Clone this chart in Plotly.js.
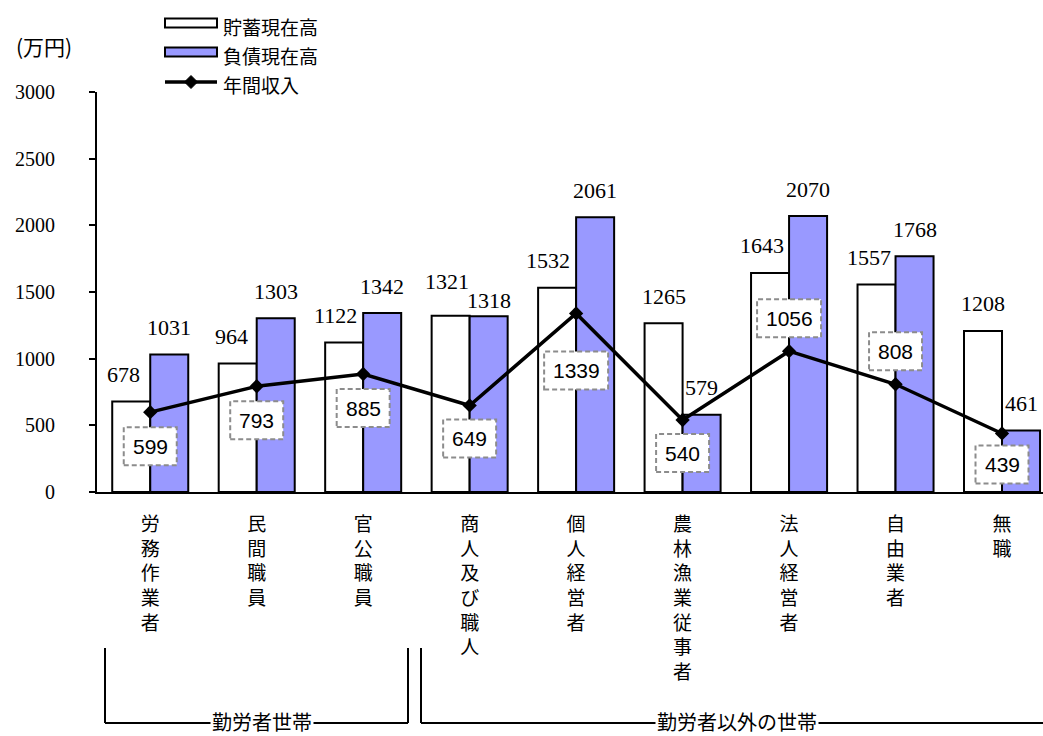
<!DOCTYPE html>
<html><head><meta charset="utf-8">
<script src="https://cdn.plot.ly/plotly-3.0.1.min.js"></script>
<style>html,body{margin:0;padding:0;background:#fff}#chart{width:1043px;height:736px}</style>
</head><body><div id="chart"></div>
<script>
// ---- data ----
const categories = ['労務作業者','民間職員','官公職員','商人及び職人','個人経営者','農林漁業従事者','法人経営者','自由業者','無職'];
const savings = [678, 964, 1122, 1321, 1532, 1265, 1643, 1557, 1208];
const debt    = [1031, 1303, 1342, 1318, 2061, 579, 2070, 1768, 461];
const income  = [599, 793, 885, 649, 1339, 540, 1056, 808, 439];
const seriesNames = ['貯蓄現在高', '負債現在高', '年間収入'];
const yTicks = [0, 500, 1000, 1500, 2000, 2500, 3000];
const yUnit = '(万円)';
const groupLabels = ['勤労者世帯', '勤労者以外の世帯'];

// ---- style / layout helpers ----
const L = 97, T = 92, W = 946, H = 400;
const px2x = p => (p - L) / W;
const py2y = p => (T + H - p) / H;
const serif = 'Liberation Serif, serif';
const jp = 'Noto Sans CJK JP, sans-serif';
const gothicNum = 'Liberation Sans, Arial, sans-serif';
const blue = '#9999FF';
const idx = categories.map((_, i) => i);

// label placement styles (pixels)
const incomeLabelDy = [34, 34, 34, 33, 57, 33, -33, -33, 31]; // + = below point
const whiteLabelDx = [-8, -6, -9, -4, -9, 0, -8, -8, 0];
const whiteLabelDy = [27, 27, 27, 34, 27, 27, 27, 27, 27];
const blueLabelDy  = [27, 27, 27, 16, 27, 27, 27, 27, 27];

const traces = [
  {type: 'bar', x: idx, y: savings, name: seriesNames[0],
   marker: {color: '#ffffff', line: {color: '#000', width: 2}}, hoverinfo: 'y'},
  {type: 'bar', x: idx, y: debt, name: seriesNames[1],
   marker: {color: blue, line: {color: '#000', width: 2}}, hoverinfo: 'y'},
  {type: 'scatter', mode: 'lines+markers', x: idx, y: income, name: seriesNames[2],
   line: {color: '#000', width: 3.5}, marker: {symbol: 'diamond', size: 11, color: '#000'}}
];

const annotations = [];
const shapes = [];

idx.forEach(i => {
  annotations.push({x: i, y: savings[i], xref: 'x', yref: 'y', showarrow: false,
    text: String(savings[i]), xshift: -19 + whiteLabelDx[i], yshift: whiteLabelDy[i],
    xanchor: 'center', yanchor: 'middle', font: {family: serif, size: 22, color: '#000'}});
  annotations.push({x: i, y: debt[i], xref: 'x', yref: 'y', showarrow: false,
    text: String(debt[i]), xshift: 19, yshift: blueLabelDy[i],
    xanchor: 'center', yanchor: 'middle', font: {family: serif, size: 22, color: '#000'}});
  const bw = String(income[i]).length > 3 ? 64 : 53;
  const dy = incomeLabelDy[i];
  shapes.push({type: 'rect', xref: 'x', yref: 'y', xsizemode: 'pixel', ysizemode: 'pixel',
    xanchor: i, yanchor: income[i], x0: -bw / 2, x1: bw / 2, y0: -dy - 19, y1: -dy + 19,
    fillcolor: '#fff', line: {color: '#8c8c8c', width: 2, dash: '5px,3px'}, layer: 'above'});
  annotations.push({x: i, y: income[i], xref: 'x', yref: 'y', showarrow: false,
    text: String(income[i]), yshift: -dy, xanchor: 'center', yanchor: 'middle',
    font: {family: gothicNum, size: 21, color: '#000'}});
});

// unit label
annotations.push({xref: 'paper', yref: 'paper', x: px2x(44), y: py2y(46), showarrow: false,
  text: yUnit, xanchor: 'center', yanchor: 'middle', font: {family: jp, size: 21, color: '#000'}});

// custom legend
const legY = [23, 52, 82], legTextY = [27, 56, 85];
shapes.push({type: 'rect', xref: 'paper', yref: 'paper', x0: px2x(165), x1: px2x(217),
  y0: py2y(legY[0] - 4.5), y1: py2y(legY[0] + 4.5), fillcolor: '#fff', line: {color: '#000', width: 2}});
shapes.push({type: 'rect', xref: 'paper', yref: 'paper', x0: px2x(165), x1: px2x(217),
  y0: py2y(legY[1] - 4.5), y1: py2y(legY[1] + 4.5), fillcolor: blue, line: {color: '#000', width: 2}});
shapes.push({type: 'line', xref: 'paper', yref: 'paper', x0: px2x(165), x1: px2x(217),
  y0: py2y(legY[2]), y1: py2y(legY[2]), line: {color: '#000', width: 3.5}});
const dc = 191, dyc = legY[2], ds = 6.5;
shapes.push({type: 'path', xref: 'paper', yref: 'paper',
  path: `M${px2x(dc - ds)},${py2y(dyc)} L${px2x(dc)},${py2y(dyc - ds)} L${px2x(dc + ds)},${py2y(dyc)} L${px2x(dc)},${py2y(dyc + ds)} Z`,
  fillcolor: '#000', line: {color: '#000', width: 1}});
seriesNames.forEach((n, k) => {
  annotations.push({xref: 'paper', yref: 'paper', x: px2x(221), y: py2y(legTextY[k]), showarrow: false,
    text: n, xanchor: 'left', yanchor: 'middle', font: {family: jp, size: 19, color: '#000'}});
});

// group brackets
const bl = {color: '#000', width: 2};
const bTop = 648, bBot = 723;
[[105, 408], [421, 1060]].forEach(([a, b]) => {
  shapes.push({type: 'line', xref: 'paper', yref: 'paper', x0: px2x(a), x1: px2x(a), y0: py2y(bTop), y1: py2y(bBot), line: bl});
  if (b < 1043) shapes.push({type: 'line', xref: 'paper', yref: 'paper', x0: px2x(b), x1: px2x(b), y0: py2y(bTop), y1: py2y(bBot), line: bl});
  shapes.push({type: 'line', xref: 'paper', yref: 'paper', x0: px2x(a), x1: px2x(Math.min(b, 1043)), y0: py2y(bBot), y1: py2y(bBot), line: bl});
});
[[262, groupLabels[0]], [737, groupLabels[1]]].forEach(([cx, t]) => {
  annotations.push({xref: 'paper', yref: 'paper', x: px2x(cx), y: py2y(721), showarrow: false,
    text: t, xanchor: 'center', yanchor: 'middle', bgcolor: '#fff', borderpad: 1,
    font: {family: jp, size: 20, color: '#000'}});
});

const layout = {
  width: 1043, height: 736,
  margin: {l: L, r: 1043 - L - W, t: T, b: 736 - T - H, pad: 0},
  paper_bgcolor: '#fff', plot_bgcolor: '#fff',
  showlegend: false,
  barmode: 'group', bargap: 0.286, bargroupgap: 0,
  xaxis: {range: [-0.5, 8.385], tickvals: idx,
    ticktext: categories.map(c => c.split('').join('<br>')),
    ticks: '', showline: true, linecolor: '#000', linewidth: 2, showgrid: false, zeroline: false,
    tickfont: {family: jp, size: 19, color: '#000'}, ticklabelstandoff: 14, fixedrange: true},
  yaxis: {range: [0, 3000], tickvals: yTicks, ticks: 'outside', ticklen: 6, tickwidth: 2, tickcolor: '#000',
    showline: true, linecolor: '#000', linewidth: 2, showgrid: false, zeroline: false,
    tickfont: {family: serif, size: 20, color: '#000'}, ticklabelstandoff: 30, fixedrange: true},
  annotations: annotations,
  shapes: shapes,
  font: {family: jp, color: '#000'}
};

Plotly.newPlot('chart', traces, layout, {displayModeBar: false, staticPlot: true});
</script>
</body></html>
